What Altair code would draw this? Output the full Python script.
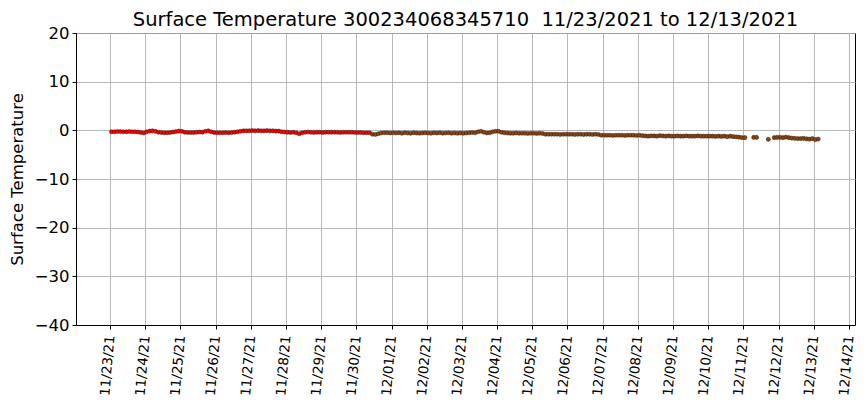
import altair as alt
import pandas as pd

TITLE = "Surface Temperature 300234068345710 \u00a011/23/2021 to 12/13/2021"
Y_LABEL = "Surface Temperature"

# sample hours within each day (every 2 hours)
hours = [1, 3, 5, 7, 9, 11, 13, 15, 17, 19, 21, 23]

days = [
    "2021-11-23", "2021-11-24", "2021-11-25", "2021-11-26", "2021-11-27",
    "2021-11-28", "2021-11-29", "2021-11-30", "2021-12-01", "2021-12-02",
    "2021-12-03", "2021-12-04", "2021-12-05", "2021-12-06", "2021-12-07",
    "2021-12-08", "2021-12-09", "2021-12-10", "2021-12-11", "2021-12-12",
    "2021-12-13",
]

temps = [
    [-0.3, -0.3, -0.25, -0.25, -0.3, -0.3, -0.25, -0.3, -0.3, -0.35, -0.45, -0.55],
    [-0.3, -0.15, -0.1, -0.2, -0.4, -0.45, -0.5, -0.5, -0.45, -0.35, -0.25, -0.15],
    [-0.2, -0.4, -0.45, -0.45, -0.45, -0.4, -0.35, -0.4, -0.2, -0.1, -0.3, -0.45],
    [-0.5, -0.5, -0.5, -0.45, -0.5, -0.45, -0.4, -0.3, -0.2, -0.1, -0.1, -0.1],
    [-0.05, -0.1, -0.05, -0.1, -0.1, -0.05, -0.1, -0.1, -0.15, -0.15, -0.3, -0.35],
    [-0.4, -0.45, -0.4, -0.5, -0.7, -0.5, -0.4, -0.35, -0.4, -0.45, -0.4, -0.4],
    [-0.45, -0.4, -0.4, -0.4, -0.4, -0.4, -0.45, -0.4, -0.4, -0.4, -0.4, -0.45],
    [-0.45, -0.45, -0.5, -0.5, -0.5, -0.8, -0.85, -0.7, -0.55, -0.5, -0.5, -0.55],
    [-0.5, -0.55, -0.5, -0.6, -0.5, -0.55, -0.6, -0.5, -0.55, -0.6, -0.55, -0.5],
    [-0.55, -0.6, -0.5, -0.55, -0.5, -0.6, -0.55, -0.5, -0.6, -0.55, -0.6, -0.55],
    [-0.6, -0.55, -0.5, -0.45, -0.5, -0.3, -0.2, -0.4, -0.55, -0.5, -0.3, -0.2],
    [-0.2, -0.4, -0.5, -0.55, -0.6, -0.6, -0.55, -0.6, -0.6, -0.6, -0.65, -0.6],
    [-0.6, -0.65, -0.6, -0.65, -0.8, -0.8, -0.8, -0.8, -0.8, -0.85, -0.8, -0.8],
    [-0.8, -0.8, -0.85, -0.8, -0.8, -0.85, -0.8, -0.8, -0.85, -0.8, -0.85, -1.0],
    [-1.0, -1.0, -1.0, -1.05, -1.0, -1.0, -1.0, -1.05, -1.0, -1.0, -1.0, -1.05],
    [-1.0, -1.1, -1.15, -1.2, -1.15, -1.15, -1.2, -1.1, -1.15, -1.2, -1.15, -1.2],
    [-1.2, -1.15, -1.2, -1.2, -1.15, -1.2, -1.2, -1.2, -1.15, -1.2, -1.2, -1.2],
    [-1.2, -1.2, -1.25, -1.2, -1.25, -1.2, -1.3, -1.2, -1.3, -1.35, -1.4, -1.5],
    [-1.5, None, None, -1.45, -1.45, None, None, None, -1.85, None, -1.5, -1.45],
    [-1.45, -1.5, -1.4, -1.5, -1.6, -1.65, -1.7, -1.7, -1.65, -1.75, -1.8, -1.7],
    [-1.9, -1.8],
]

RED_END = pd.Timestamp("2021-11-30T09:00:00")  # points up to this time are red
COLOR_NAMES = ["red", "brown"]
COLOR_VALUES = ["#ff0000", "#8b4513"]

tick_days = [
    "2021-11-23", "2021-11-24", "2021-11-25", "2021-11-26", "2021-11-27",
    "2021-11-28", "2021-11-29", "2021-11-30", "2021-12-01", "2021-12-02",
    "2021-12-03", "2021-12-04", "2021-12-05", "2021-12-06", "2021-12-07",
    "2021-12-08", "2021-12-09", "2021-12-10", "2021-12-11", "2021-12-12",
    "2021-12-13", "2021-12-14",
]
y_ticks = [-40, -30, -20, -10, 0, 10, 20]

rows = []
for day, vals in zip(days, temps):
    for h, v in zip(hours, vals):
        if v is None:
            continue
        t = pd.Timestamp(day) + pd.Timedelta(hours=h)
        rows.append({"time": t, "temp": v,
                     "phase": "red" if t <= RED_END else "brown"})
df = pd.DataFrame(rows)


def dt(s):
    ts = pd.Timestamp(s)
    return alt.DateTime(year=ts.year, month=ts.month, date=ts.day,
                        hours=ts.hour, minutes=ts.minute)


x_values = [dt(d) for d in tick_days]

FONT = "DejaVu Sans"

chart = alt.Chart(df).mark_circle(
    size=17, opacity=1, stroke="#2b1a10", strokeWidth=0.5
).encode(
    x=alt.X(
        "time:T",
        scale=alt.Scale(domain=[dt("2021-11-22T00:48"), dt("2021-12-14T04:06")], nice=False),
        axis=alt.Axis(
            title=None, values=x_values, format="%m/%d/%y", formatType="time",
            labelAngle=275, labelAlign="right", labelBaseline="middle",
            labelFontSize=13.5, labelPadding=6, tickSize=4, labelFont=FONT,
            labelColor="black", grid=True, gridColor="#b0b0b0", gridWidth=0.9,
            domainColor="black", tickColor="black", labelOverlap=False,
            labelFlush=False,
        ),
    ),
    y=alt.Y(
        "temp:Q",
        scale=alt.Scale(domain=[-40, 20], nice=False, zero=False),
        axis=alt.Axis(
            title=Y_LABEL, values=y_ticks, labelFontSize=16.5, labelFont=FONT,
            labelColor="black", labelPadding=3, tickSize=4,
            labelExpr="replace(datum.label, '-', '\u2212')",
            titleFont=FONT, titleFontSize=16.5, titleFontWeight="normal",
            titleColor="black", titlePadding=9,
            grid=True, gridColor="#b0b0b0", gridWidth=0.9,
            domainColor="black", tickColor="black",
        ),
    ),
    color=alt.Color("phase:N", scale=alt.Scale(domain=COLOR_NAMES, range=COLOR_VALUES),
                    legend=None),
).properties(
    width=779,
    height=292,
    title=alt.TitleParams(TITLE, font=FONT, fontSize=19.5, fontWeight="normal",
                          color="black", anchor="middle", offset=-5),
    autosize=alt.AutoSizeParams(type="none"),
    padding={"left": 68, "top": 25, "right": 4, "bottom": 75},
).configure_view(
    stroke="black", strokeWidth=1
)

chart.save("out.html", embed_options={"renderer": "svg", "actions": False})
